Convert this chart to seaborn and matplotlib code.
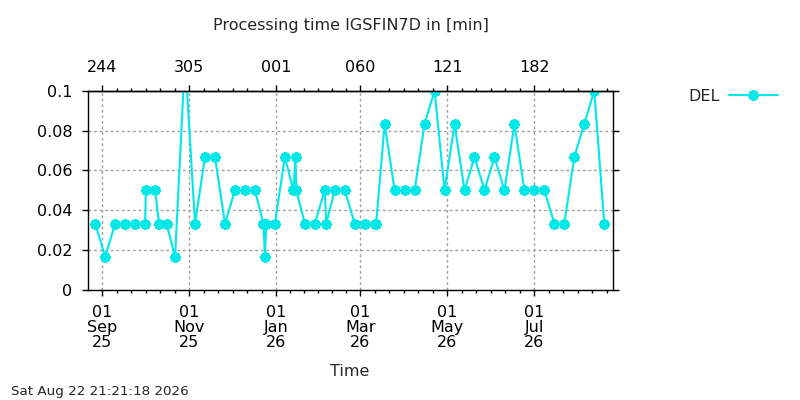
import matplotlib
matplotlib.use('Agg')
import numpy as np
import pandas as pd
import seaborn as sns
import matplotlib.pyplot as plt
import matplotlib.dates as mdates
from matplotlib.ticker import FixedLocator

# processing time per run
run_times = [
    '2025-08-27 00:00', '2025-09-03 00:00', '2025-09-10 00:00', '2025-09-17 00:00', '2025-09-24 00:00',
    '2025-10-01 00:00', '2025-10-01 12:00', '2025-10-08 00:00', '2025-10-10 18:00', '2025-10-16 00:00',
    '2025-10-22 00:00', '2025-10-29 00:00', '2025-11-05 00:00', '2025-11-12 00:00', '2025-11-19 00:00',
    '2025-11-26 00:00', '2025-12-03 00:00', '2025-12-10 00:00', '2025-12-17 00:00', '2025-12-23 00:00',
    '2025-12-24 00:00', '2025-12-25 00:00', '2025-12-31 00:00', '2026-01-07 00:00', '2026-01-13 00:00',
    '2026-01-14 12:00', '2026-01-15 00:00', '2026-01-21 00:00', '2026-01-28 00:00', '2026-02-04 00:00',
    '2026-02-05 00:00', '2026-02-11 00:00', '2026-02-18 00:00', '2026-02-25 00:00', '2026-03-04 00:00',
    '2026-03-11 00:00', '2026-03-12 00:00', '2026-03-18 00:00', '2026-03-25 00:00', '2026-04-01 00:00',
    '2026-04-08 00:00', '2026-04-15 00:00', '2026-04-22 00:00', '2026-04-29 00:00', '2026-05-06 00:00',
    '2026-05-13 00:00', '2026-05-20 00:00', '2026-05-27 00:00', '2026-06-03 00:00', '2026-06-10 00:00',
    '2026-06-17 00:00', '2026-06-24 00:00', '2026-07-01 00:00', '2026-07-08 00:00', '2026-07-15 00:00',
    '2026-07-22 00:00', '2026-07-29 00:00', '2026-08-05 00:00', '2026-08-12 00:00', '2026-08-19 00:00',
]
del_minutes = [
    0.0333, 0.0167, 0.0333, 0.0333, 0.0333,
    0.0333, 0.05, 0.05, 0.0333, 0.0333,
    0.0167, 0.1167, 0.0333, 0.0667, 0.0667,
    0.0333, 0.05, 0.05, 0.05, 0.0333,
    0.0167, 0.0333, 0.0333, 0.0667, 0.05,
    0.0667, 0.05, 0.0333, 0.0333, 0.05,
    0.0333, 0.05, 0.05, 0.0333, 0.0333,
    0.0333, 0.0333, 0.0833, 0.05, 0.05,
    0.05, 0.0833, 0.1, 0.05, 0.0833,
    0.05, 0.0667, 0.05, 0.0667, 0.05,
    0.0833, 0.05, 0.05, 0.05, 0.0333,
    0.0333, 0.0667, 0.0833, 0.1, 0.0333,
]

tick_dates = ['2025-09-01', '2025-11-01', '2026-01-01', '2026-03-01', '2026-05-01', '2026-07-01']
bottom_labels = ['01\nSep\n25', '01\nNov\n25', '01\nJan\n26', '01\nMar\n26', '01\nMay\n26', '01\nJul\n26']
top_labels = ['244', '305', '001', '060', '121', '182']
y_ticks = [0, 0.02, 0.04, 0.06, 0.08, 0.1]
y_labels = ['0', '0.02', '0.04', '0.06', '0.08', '0.1']

title = 'Processing time IGSFIN7D in [min]'
stamp = 'Sat Aug 22 21:21:18 2026'
CYAN = '#00e8e8'

df = pd.DataFrame({'time': pd.to_datetime(run_times, format='%Y-%m-%d %H:%M'),
                   'minutes': del_minutes})

sns.set_theme(style='ticks')
plt.rcParams['font.family'] = ['DejaVu Sans']

fig, ax = plt.subplots(figsize=(8, 4), dpi=100)
fig.subplots_adjust(left=0.1104, right=0.766, top=0.7733, bottom=0.275)

sns.lineplot(data=df, x='time', y='minutes', estimator=None, sort=False, ax=ax,
             color=CYAN, lw=1.5, marker=(8, 2, 0), markersize=7.5,
             markeredgewidth=2.2, markeredgecolor=CYAN, label='DEL')

ax.set_xlim(pd.Timestamp('2025-08-22 04:00'), pd.Timestamp('2026-08-25 00:00'))
ax.set_ylim(0, 0.1)

# major ticks at month starts, 6 minor divisions in between
major = mdates.date2num(pd.to_datetime(tick_dates))
minor = []
for a, b in zip(major[:-1], major[1:]):
    minor.extend(np.linspace(a, b, 7)[1:-1])
step = (major[-1] - major[-2]) / 6
x0, x1 = ax.get_xlim()
t = major[-1] + step
while t < x1:
    minor.append(t)
    t += step
t = major[0] - step
while t > x0:
    minor.append(t)
    t -= step

ax.set_xticks(major, labels=bottom_labels)
ax.xaxis.set_minor_locator(FixedLocator(minor))
ax.set_yticks(y_ticks, labels=y_labels)
for lab in ax.get_xticklabels():
    lab.set_linespacing(1.03)

ax.set_xlabel('')
ax.set_ylabel('')
ax.grid(True, which='major', color='#a0a0a0', linestyle=(0, (2, 2)), lw=1)
for s in ax.spines.values():
    s.set_visible(True)
    s.set_color('black')
    s.set_linewidth(1)

ax.tick_params(axis='x', which='major', direction='out', length=4, width=1,
               bottom=True, top=False, pad=6.5, labelsize=11.5, colors='black')
ax.tick_params(axis='x', which='minor', direction='out', length=2.5, width=1,
               bottom=True, top=False, colors='black')
ax.tick_params(axis='y', which='major', direction='out', length=4, width=1,
               left=True, right=True, pad=7.5, labelsize=11.5, colors='black')

secax = ax.secondary_xaxis('top')
secax.set_xticks(major, labels=top_labels)
secax.xaxis.set_minor_locator(FixedLocator(minor))
secax.tick_params(which='major', direction='out', length=4, width=1, pad=7,
                  labelsize=11.5, colors='black')
secax.tick_params(which='minor', direction='out', length=2.5, width=1, colors='black')
secax.spines['top'].set_color('black')
secax.spines['top'].set_linewidth(1)

ax.legend(loc='center left', bbox_to_anchor=(688 / 800, 1 - 96.5 / 400),
          bbox_transform=fig.transFigure, frameon=False, markerfirst=False,
          handlelength=3.05, handletextpad=0.6, borderpad=0, borderaxespad=0,
          fontsize=11.5)

fig.text(350.5 / 800, 1 - 30 / 400, title, ha='center', va='baseline', fontsize=11.5)
fig.text(349.5 / 800, 1 - 375.7 / 400, 'Time', ha='center', va='baseline', fontsize=11.5)
fig.text(11 / 800, 1 - 395.5 / 400, stamp, ha='left', va='baseline', fontsize=9.7)

fig.savefig('out.png', dpi=100)
plt.close(fig)
